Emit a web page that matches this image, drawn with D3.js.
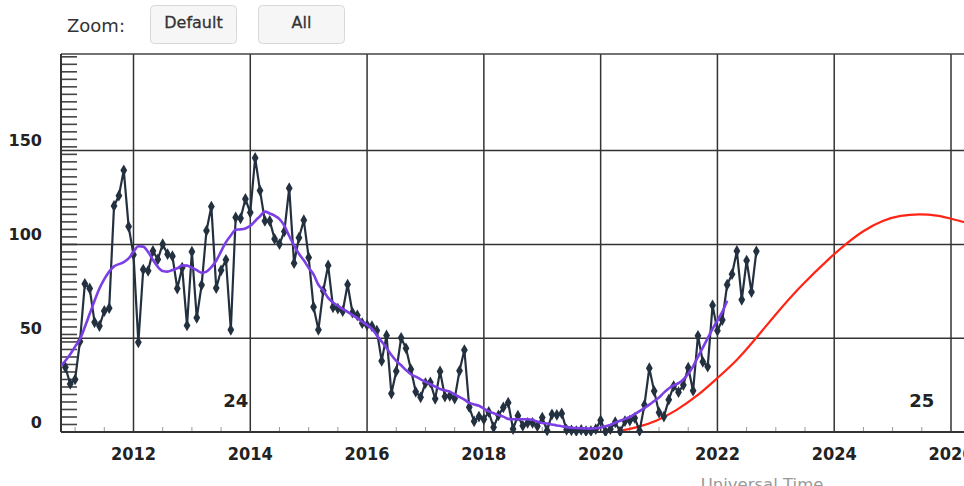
<!DOCTYPE html>
<html>
<head>
<meta charset="utf-8">
<script src="https://cdn.jsdelivr.net/npm/d3@7"></script>
<style>
  html, body { margin: 0; padding: 0; background: #fff; }
  svg { display: block; }
</style>
</head>
<body>
<svg id="chart" width="964" height="486"></svg>
<script>
// ---------------- DATA ----------------
// Monthly sunspot number, starting November 2010, ending September 2022
const monthlyStart = [2010, 11];
const monthlyValues = [
  34.5, 25.6,
  28.0, 48.3, 79.0, 76.5, 58.5, 56.5, 64.5, 66.0, 120.5, 126.0, 139.5, 109.5,
  94.5, 47.8, 86.6, 85.9, 96.5, 92.0, 100.1, 94.8, 93.7, 76.5, 87.6, 56.8,
  96.1, 60.9, 78.3, 107.3, 120.2, 76.7, 86.2, 91.8, 54.5, 114.4, 113.9, 124.2,
  117.0, 146.1, 128.7, 112.5, 112.5, 102.9, 100.2, 106.9, 130.0, 90.0, 103.6, 112.9,
  93.0, 66.7, 54.5, 75.3, 88.8, 66.5, 65.8, 64.4, 78.6, 63.6, 62.2, 58.0,
  57.0, 56.4, 54.1, 37.9, 51.5, 20.5, 32.4, 50.2, 44.6, 33.4, 21.4, 18.5,
  26.1, 26.4, 17.7, 32.3, 18.9, 19.2, 17.8, 32.6, 43.7, 13.2, 5.7, 8.2,
  6.8, 10.7, 2.5, 8.9, 13.1, 15.6, 1.6, 8.7, 3.3, 4.9, 4.9, 3.1,
  7.7, 0.8, 9.4, 9.1, 9.9, 1.2, 0.9, 0.5, 1.1, 0.4, 0.5, 1.5,
  6.2, 0.2, 1.5, 5.2, 0.2, 5.8, 6.1, 7.5, 0.6, 14.4, 34.0, 21.8,
  10.4, 8.2, 17.2, 24.5, 21.2, 25.0, 34.3, 22.0, 51.3, 37.4, 34.8, 67.5,
  54.0, 59.7, 78.5, 84.1, 96.5, 70.5, 91.4, 74.6, 96.3
];

// Smoothed sunspot number, starting October 2010, ending March 2022
const smoothStart = [2010, 10];
const smoothValues = [
  35, 38, 41.5,
  45.5, 49.5, 56, 63, 70, 76.5, 81.5, 85.5, 88.3, 89.5, 90.5, 92.5,
  96, 99, 98.8, 96, 91.7, 88, 85.8, 85.5, 86.4, 87.3, 88.8, 88.7,
  87.6, 86.3, 84.9, 85.5, 87.9, 91.3, 96.3, 101.2, 104.8, 107.8, 108, 108.5,
  109.9, 112.5, 115, 117.5, 116.5, 115.3, 113.5, 110, 104.5, 99.5, 95, 91.5,
  87.5, 84, 78.5, 75.5, 71.5, 69, 67.3, 65.6, 64, 62.3, 60.7, 58.8,
  57, 55, 51.5, 48.2, 44.8, 41, 37.9, 35.6, 33, 30.8, 29.5, 28.1,
  26.8, 25.5, 24.2, 22.9, 22.2, 21.5, 20, 18.6, 17.2, 15.5, 14.7, 14,
  12.5, 11, 10, 9, 8.2, 7, 6.8, 6.8, 6.8, 6.8, 6.5, 5.5,
  4.8, 4.5, 4, 3.5, 3.1, 2.6, 2.3, 2.1, 2, 1.9, 1.8, 2,
  2.4, 3.1, 3.7, 5, 6, 7, 8, 9.5, 11.1, 12.8, 14.6, 16.5,
  18.4, 21, 23.2, 24.8, 26, 28, 31, 35, 40, 45, 50, 55,
  59.5, 64, 70
];

// Predicted cycle 25 (red), read at decimal years
const predYears  = [2020.30, 2020.62, 2020.96, 2021.30, 2021.65, 2021.99, 2022.33, 2022.62, 2022.99, 2023.41, 2023.98, 2024.19, 2024.50, 2024.84, 2025.13, 2025.47, 2025.76, 2026.03, 2026.32];
const predValues = [0.5, 2.3, 5.8, 11.5, 19, 28.5, 38, 48.5, 62.5, 77.5, 94.5, 100, 107.5, 113, 115.5, 116.3, 115.5, 113.5, 111];

const xTickYears  = [2012, 2014, 2016, 2018, 2020, 2022, 2024, 2026];
const xTickLabels = ["2012", "2014", "2016", "2018", "2020", "2022", "2024", "2026"];
const yTickValues = [0, 50, 100, 150];
const yTickLabels = ["0", "50", "100", "150"];
const cycleLabels = [{ text: "24", year: 2013.75, value: 16 }, { text: "25", year: 2025.5, value: 16 }];
const zoomButtons = ["Default", "All"];

// ---------------- LAYOUT ----------------
const svg = d3.select("#chart");
const L = 61, R = 964, T = 54, B = 432;

const x = d3.scaleLinear().domain([2012, 2026]).range([133.5, 951]);
const y = d3.scaleLinear().domain([0, 201.5]).range([B, T]);

const monthDate = (start, i) => start[0] + (start[1] - 1 + i) / 12;

svg.append("defs").append("clipPath").attr("id", "plotclip")
  .append("rect").attr("x", L).attr("y", T - 2).attr("width", R - L + 10).attr("height", B - T + 6);

// zoom bar
svg.append("text").attr("x", 67).attr("y", 27).attr("dominant-baseline", "middle")
  .attr("font-family", "DejaVu Sans, sans-serif").attr("font-size", 18).attr("fill", "#333")
  .text("Zoom:");
const btnX = [150, 258];
zoomButtons.forEach((b, i) => {
  const g = svg.append("g");
  g.append("rect").attr("x", btnX[i] + 0.5).attr("y", 5.5).attr("width", 86).attr("height", 38)
    .attr("rx", 4).attr("fill", "#f6f6f6").attr("stroke", "#d8d8d8");
  g.append("text").attr("x", btnX[i] + 43.5).attr("y", 23.5).attr("text-anchor", "middle")
    .attr("dominant-baseline", "middle")
    .attr("font-family", "DejaVu Sans, sans-serif").attr("font-size", 16).attr("fill", "#333")
    .attr("stroke", "#333").attr("stroke-width", 0.3)
    .text(b);
});

// minor ticks on left (inside)
const leftTicks = d3.range(0, 201, 4);
svg.append("g").selectAll("line").data(leftTicks).join("line")
  .attr("x1", L).attr("x2", L + 16)
  .attr("y1", d => y(d)).attr("y2", d => y(d))
  .attr("stroke", "#444").attr("stroke-width", 1.6);

// minor ticks on bottom
const bottomTicks = d3.range(2011, 2026.6, 0.5).filter(v => !xTickYears.includes(v));
svg.append("g").selectAll("line").data(bottomTicks).join("line")
  .attr("x1", d => x(d)).attr("x2", d => x(d))
  .attr("y1", B).attr("y2", B - 5)
  .attr("stroke", "#999").attr("stroke-width", 1);

// grid
const grid = svg.append("g").attr("stroke", "#333").attr("stroke-width", 1.5);
grid.selectAll("line.h").data(yTickValues.filter(v => v > 0)).join("line").attr("class", "h")
  .attr("x1", L).attr("x2", R).attr("y1", d => y(d)).attr("y2", d => y(d));
grid.selectAll("line.v").data(xTickYears).join("line").attr("class", "v")
  .attr("x1", d => x(d)).attr("x2", d => x(d)).attr("y1", T).attr("y2", B);

// frame
svg.append("line").attr("x1", L).attr("x2", R).attr("y1", T).attr("y2", T).attr("stroke", "#444").attr("stroke-width", 1.5);
svg.append("line").attr("x1", L).attr("x2", L).attr("y1", T).attr("y2", B).attr("stroke", "#333").attr("stroke-width", 2);
svg.append("line").attr("x1", L).attr("x2", R).attr("y1", B).attr("y2", B).attr("stroke", "#333").attr("stroke-width", 2);

// y labels
svg.append("g").selectAll("text").data(yTickValues).join("text")
  .attr("x", 42).attr("y", d => y(d) - 9).attr("text-anchor", "end").attr("dominant-baseline", "middle")
  .attr("font-family", "DejaVu Sans, sans-serif").attr("font-weight", "bold").attr("font-size", 16).attr("fill", "#222")
  .text((d, i) => yTickLabels[i]);

// x labels
svg.append("g").selectAll("text").data(xTickYears).join("text")
  .attr("x", d => x(d)).attr("y", 455).attr("text-anchor", "middle").attr("dominant-baseline", "middle")
  .attr("font-family", "DejaVu Sans Condensed, DejaVu Sans, sans-serif").attr("font-stretch", "condensed")
  .attr("font-weight", "bold").attr("font-size", 18).attr("fill", "#222")
  .text((d, i) => xTickLabels[i]);

// axis title
svg.append("text").attr("x", 762).attr("y", 490).attr("text-anchor", "middle")
  .attr("font-family", "DejaVu Sans, sans-serif").attr("font-size", 16.5).attr("fill", "#999")
  .text("Universal Time");

// cycle labels
svg.append("g").selectAll("text").data(cycleLabels).join("text")
  .attr("x", d => x(d.year)).attr("y", d => y(d.value)).attr("text-anchor", "middle").attr("dominant-baseline", "middle")
  .attr("font-family", "DejaVu Sans, sans-serif").attr("font-weight", "bold").attr("font-size", 18).attr("fill", "#222")
  .text(d => d.text);

// series
const plot = svg.append("g").attr("clip-path", "url(#plotclip)");

const predData = predYears.map((yr, i) => [yr, predValues[i]]);
plot.append("path").datum(predData)
  .attr("fill", "none").attr("stroke", "#ff2414").attr("stroke-width", 2.2)
  .attr("d", d3.line().x(d => x(d[0])).y(d => y(d[1])).curve(d3.curveBasis));

const monthly = monthlyValues.map((v, i) => [monthDate(monthlyStart, i), v]);
plot.append("path").datum(monthly)
  .attr("fill", "none").attr("stroke", "#23303f").attr("stroke-width", 2.2)
  .attr("d", d3.line().x(d => x(d[0])).y(d => y(d[1])));
plot.append("g").selectAll("path").data(monthly).join("path")
  .attr("transform", d => `translate(${x(d[0])},${y(d[1])})`)
  .attr("d", d3.symbol().type(d3.symbolDiamond).size(40))
  .attr("fill", "#23303f");

const smooth = smoothValues.map((v, i) => [monthDate(smoothStart, i), v]);
plot.append("path").datum(smooth)
  .attr("fill", "none").attr("stroke", "#7c3fe6").attr("stroke-width", 2.6)
  .attr("d", d3.line().x(d => x(d[0])).y(d => y(d[1])).curve(d3.curveMonotoneX));
</script>
</body>
</html>
